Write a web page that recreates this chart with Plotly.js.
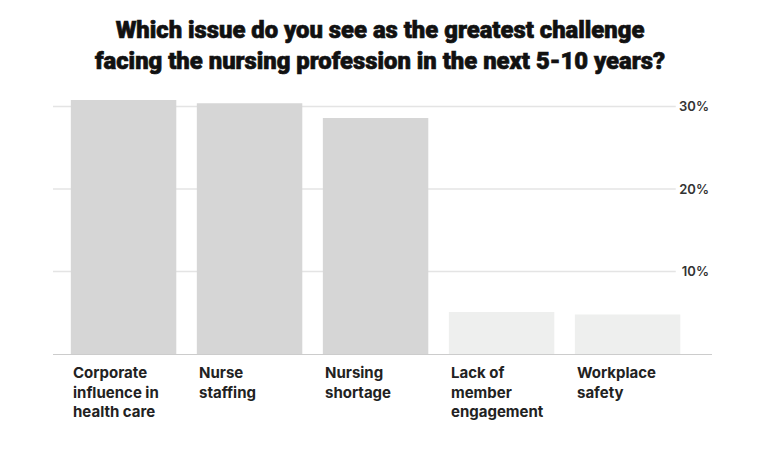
<!DOCTYPE html>
<html>
<head>
<meta charset="utf-8">
<script src="https://cdn.plot.ly/plotly-3.0.1.min.js"></script>
<style>
body{margin:0;background:#fff}
#chart{width:760px;height:457px}
.gtitle{stroke:#111;stroke-width:0.65px;paint-order:stroke}
</style>
</head>
<body>
<div id="chart"></div>
<script>
const categories = ["Corporate<br>influence in<br>health care", "Nurse<br>staffing", "Nursing<br>shortage", "Lack of<br>member<br>engagement", "Workplace<br>safety"];
const values = [30.8, 30.4, 28.6, 5.1, 4.8];
const barColors = ["#d6d6d6", "#d6d6d6", "#d6d6d6", "#eeefee", "#eeefee"];
const tickVals = [10, 20, 30];
const tickText = ["10%", "20%", "30%"];

const xIdx = categories.map((c, i) => i);
const bargap = 0.163;
const halfW = (1 - bargap) / 2;

const trace = {
  type: "bar",
  x: xIdx,
  y: values,
  marker: {color: barColors, line: {width: 0}},
  hoverinfo: "none"
};

const annotations = categories.map((c, i) => ({
  x: i - halfW, y: 0, xref: "x", yref: "y",
  text: c, showarrow: false, xanchor: "left", yanchor: "top", align: "left",
  yshift: -7,
  font: {family: "Inter, Roboto, Arial, sans-serif", size: 15, color: "#222", weight: 700}
}));

const shapes = tickVals.map(v => ({
  type: "line", xref: "paper", yref: "y", x0: 0, x1: 0.945, y0: v, y1: v,
  line: {color: "#e4e4e4", width: 1.3}, layer: "below"
}));

const layout = {
  width: 760, height: 457,
  margin: {l: 53, r: 48, t: 90, b: 103},
  paper_bgcolor: "#fff", plot_bgcolor: "#fff",
  showlegend: false,
  bargap: bargap,
  title: {
    text: "Which issue do you see as the greatest challenge<br>facing the nursing profession in the next 5-10 years?",
    x: 0.5, xanchor: "center", y: 1 - 38/457, yanchor: "top", yref: "container",
    font: {family: "Roboto, Arial, sans-serif", size: 23.8, color: "#111", weight: 900}
  },
  xaxis: {
    range: [-0.56, 4.67], showticklabels: false, showgrid: false, zeroline: false,
    showline: true, linecolor: "#cccccc", linewidth: 1.3, ticks: "", fixedrange: true
  },
  yaxis: {
    range: [0, 32], side: "right", ticklabelposition: "inside",
    tickvals: tickVals, ticktext: tickText, showgrid: false, zeroline: false,
    showline: false, ticks: "",
    tickfont: {family: "Inter, Roboto, Arial, sans-serif", size: 13, color: "#333", weight: 600}
  },
  annotations: annotations,
  shapes: shapes
};

Plotly.newPlot("chart", [trace], layout, {displayModeBar: false, staticPlot: true});
</script>
</body>
</html>
